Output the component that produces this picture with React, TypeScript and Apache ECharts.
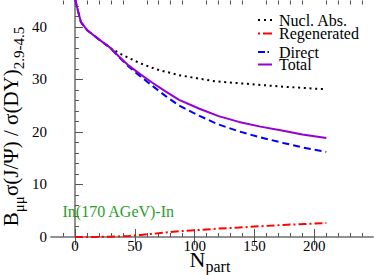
import React, { useEffect, useRef } from 'react';
import * as echarts from 'echarts';

const FONT = 'Liberation Serif';

// Series names (legend order)
const seriesNames = ['Nucl. Abs.', 'Regenerated', 'Direct', 'Total'];
const seriesColors = ['#000000', '#ff0000', '#0000ff', '#9400d3'];

// N_part values shared by Total / Direct / Regenerated
const npartMain = [0, 3, 5, 10, 20, 29, 37, 45, 55, 65, 75, 87, 104, 120, 137, 155, 174, 190, 210];
const totalValues = [45.4, 42.6, 40.9, 39.4, 37.6, 36.1, 34.3, 32.6, 30.9, 29.3, 27.8, 26.1, 24.4, 23.0, 21.9, 21.0, 20.2, 19.5, 18.85];
const directValues = [45.4, 42.6, 40.9, 39.4, 37.6, 36.1, 34.2, 32.4, 30.5, 28.7, 26.95, 25.0, 23.05, 21.4, 20.1, 18.95, 17.9, 17.05, 16.2];
const regenValues = [0, 0, 0, 0.01, 0.03, 0.07, 0.12, 0.2, 0.4, 0.6, 0.85, 1.1, 1.35, 1.6, 1.8, 2.05, 2.3, 2.45, 2.65];

// Nuclear absorption curve
const npartNucl = [26, 30, 40, 54, 68, 87, 107, 118, 146, 174, 210];
const nuclValues = [36.6, 35.9, 34.6, 33.1, 31.9, 30.8, 30.0, 29.6, 29.1, 28.6, 28.1];

// Axis ticks
const xMajor = [0, 50, 100, 150, 200];
const xMinor = [-10, 10, 20, 30, 40, 60, 70, 80, 90, 110, 120, 130, 140, 160, 170, 180, 190, 210, 220, 230, 240];
const yMajor = [0, 10, 20, 30, 40];
const yMinor = [2, 4, 6, 8, 12, 14, 16, 18, 22, 24, 26, 28, 32, 34, 36, 38, 42, 44];

const X_MIN = -20;
const X_MAX = 249;
const Y_MIN = 0;
const Y_MAX = 45;

const systemLabel = 'In(170 AGeV)-In';

const pair = (xs: number[], ys: number[]) => xs.map((x, i) => [x, ys[i]]);

const AXIS_LINE = { color: '#8a8a8a', width: 1.5 };
const TICK_LINE = { color: '#555', width: 1 };

function xAxisDef(position: 'top' | 'bottom', ticks: number[], len: number, showLine: boolean, showLabel: boolean) {
  return {
    type: 'value',
    min: X_MIN,
    max: X_MAX,
    position,
    gridIndex: 0,
    axisLine: { show: showLine, lineStyle: AXIS_LINE },
    axisTick: { show: true, inside: true, length: len, customValues: ticks, lineStyle: TICK_LINE },
    axisLabel: showLabel
      ? { show: true, customValues: ticks, fontSize: 15, lineHeight: 13, fontFamily: FONT, color: '#000', margin: 2 }
      : { show: false },
    splitLine: { show: false },
  };
}

function yAxisDef(position: 'left' | 'right', ticks: number[], len: number, showLine: boolean, showLabel: boolean, showTicks = true) {
  return {
    type: 'value',
    min: Y_MIN,
    max: Y_MAX,
    position,
    gridIndex: 0,
    axisLine: { show: showLine, lineStyle: AXIS_LINE },
    axisTick: { show: showTicks, inside: true, length: len, customValues: ticks, lineStyle: TICK_LINE },
    axisLabel: showLabel
      ? { show: true, customValues: ticks, fontSize: 15, lineHeight: 13, fontFamily: FONT, color: '#000', margin: 4 }
      : { show: false },
    splitLine: { show: false },
  };
}

const dashStyles: any[] = [[2, 3.7], [8, 3, 2, 3], [7, 4], 'solid'];
const legendRows = [20, 33.5, 52, 64.5];
const legendSampleDash: any[] = [[2, 4], [2, 3, 9, 3], [7, 2.5, 1.5, 10], null];

export default function App() {
  const ref = useRef<HTMLDivElement>(null);

  useEffect(() => {
    document.body.style.margin = '0';
    const chart = echarts.init(ref.current!, null, { renderer: 'svg' });

    const dataSets = [
      pair(npartNucl, nuclValues),
      pair(npartMain, regenValues),
      pair(npartMain, directValues),
      pair(npartMain, totalValues),
    ];

    const series = [1, 0, 2, 3].map((i) => ({
      type: 'line',
      name: seriesNames[i],
      data: dataSets[i],
      showSymbol: false,
      symbol: 'none',
      clip: true,
      z: 2 + i,
      lineStyle: {
        color: seriesColors[i],
        width: 2,
        type: dashStyles[i],
        cap: 'butt',
      },
    }));

    const legendGraphics: any[] = [];
    seriesNames.forEach((name, i) => {
      const y = legendRows[i];
      legendGraphics.push({
        type: 'line',
        shape: { x1: 258, y1: y, x2: 272, y2: y },
        style: {
          stroke: seriesColors[i],
          lineWidth: 2,
          lineDash: legendSampleDash[i] || undefined,
        },
        z: 10,
      });
      legendGraphics.push({
        type: 'text',
        x: 279,
        y: y,
        style: {
          text: name,
          fontSize: 16,
          lineHeight: 12,
          fontFamily: FONT,
          fill: '#000',
          align: 'left',
          verticalAlign: 'middle',
        },
        z: 10,
      });
    });

    const option: any = {
      animation: false,
      backgroundColor: '#ffffff',
      textStyle: { fontFamily: FONT },
      grid: { left: 51, right: 1, top: 0.5, bottom: 38, containLabel: false },
      xAxis: [
        xAxisDef('bottom', xMajor, 8, true, true),
        xAxisDef('bottom', xMinor, 4, false, false),
        xAxisDef('top', xMajor, 8, true, false),
        xAxisDef('top', xMinor, 4, false, false),
      ],
      yAxis: [
        yAxisDef('left', yMajor, 8, true, true),
        yAxisDef('left', yMinor, 4, false, false),
        yAxisDef('right', yMajor, 8, true, false, false),
      ],
      series,
      graphic: [
        ...legendGraphics,
        {
          type: 'text',
          x: 62.5,
          y: 211.5,
          style: {
            text: systemLabel,
            fontSize: 16,
            lineHeight: 14,
            fontFamily: FONT,
            fill: '#2a9d2a',
            align: 'left',
            verticalAlign: 'middle',
          },
          z: 10,
        },
        {
          type: 'text',
          x: 205.5,
          y: 259.5,
          style: {
            text: 'N',
            fontSize: 22,
            lineHeight: 14,
            fontFamily: FONT,
            fill: '#000',
            align: 'right',
            verticalAlign: 'middle',
          },
          z: 10,
        },
        {
          type: 'text',
          x: 205.5,
          y: 266,
          style: {
            text: 'part',
            fontSize: 16,
            lineHeight: 11,
            fontFamily: FONT,
            fill: '#000',
            align: 'left',
            verticalAlign: 'middle',
          },
          z: 10,
        },
        {
          type: 'text',
          x: 10.5,
          y: 126.5,
          rotation: Math.PI / 2,
          style: {
            text: '{m|B}{s|μμ}{m|σ(J/Ψ) / σ(DY)}{s|2.9-4.5}',
            align: 'center',
            verticalAlign: 'middle',
            fontFamily: FONT,
            rich: {
              m: { fontSize: 21, fontFamily: FONT, fill: '#000' },
              s: { fontSize: 15, fontFamily: FONT, fill: '#000', padding: [16, 0, 0, 0] },
            },
          },
          z: 10,
        },
      ],
    };

    chart.setOption(option);
    return () => chart.dispose();
  }, []);

  return (
    <div
      ref={ref}
      style={{ position: 'absolute', left: 0, top: 0, width: 374, height: 275, background: '#fff' }}
    />
  );
}
